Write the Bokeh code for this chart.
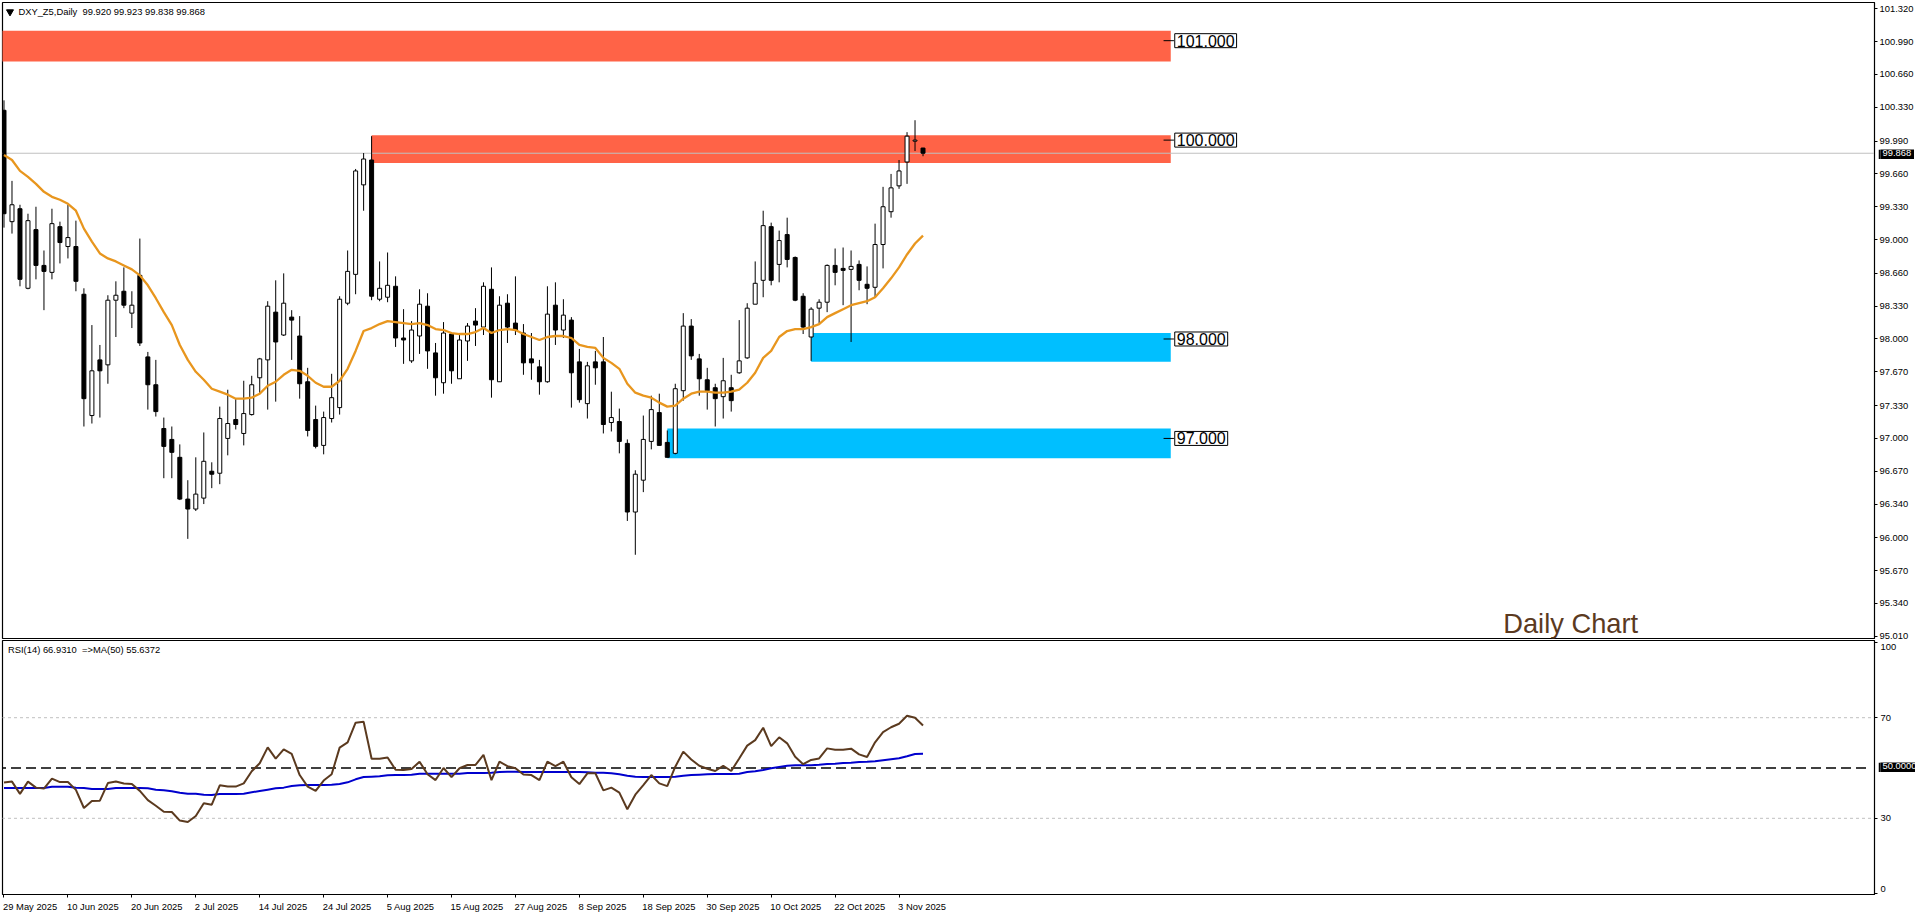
import numpy as np
from bokeh.embed import file_html
from bokeh.layouts import column
from bokeh.models import FixedTicker, Label, LinearAxis, NumeralTickFormatter, Range1d
from bokeh.plotting import figure
from bokeh.resources import INLINE

# daily candles, index = bar number
opens = [100.30, 99.18, 99.31, 98.51, 99.10, 98.74, 98.67, 99.13, 98.93, 98.93,
         98.45, 97.23, 97.79, 97.74, 98.39, 98.48, 98.26, 98.64, 97.82, 97.54,
         97.10, 96.99, 96.81, 96.39, 96.29, 96.40, 96.67, 96.65, 97.00, 97.19,
         97.05, 97.24, 97.61, 97.79, 98.27, 98.04, 98.22, 98.03, 97.57, 97.19,
         96.93, 97.20, 97.31, 98.36, 98.65, 99.55, 99.80, 98.40, 98.42, 98.53,
         98.01, 97.78, 98.03, 98.33, 97.86, 97.56, 98.05, 97.60, 97.98, 98.18,
         98.12, 98.50, 97.57, 98.36, 98.16, 98.06, 97.80, 97.72, 97.57, 98.34,
         98.09, 98.19, 97.77, 97.35, 97.77, 97.77, 97.16, 97.17, 96.95, 96.26,
         96.58, 96.97, 97.26, 96.96, 96.85, 97.48, 98.13, 97.80, 97.59, 97.51,
         97.42, 97.51, 97.66, 97.81, 98.35, 98.59, 99.13, 98.75, 99.05, 98.82,
         98.43, 98.02, 98.31, 98.37, 98.74, 98.71, 98.70, 98.75, 98.55, 98.52,
         98.95, 99.28, 99.54, 99.78, 99.99, 99.920]
highs = [100.40, 99.59, 99.35, 99.26, 99.33, 98.89, 99.31, 99.18, 99.35, 99.19,
         98.51, 98.14, 97.94, 98.44, 98.58, 98.72, 98.48, 99.01, 97.87, 97.79,
         97.21, 97.12, 96.94, 96.58, 96.81, 97.06, 96.76, 97.32, 97.49, 97.40,
         97.58, 97.63, 97.81, 98.38, 98.59, 98.66, 98.29, 98.23, 97.71, 97.33,
         97.27, 97.65, 98.43, 98.89, 99.71, 99.87, 100.04, 98.78, 98.87, 98.63,
         98.30, 98.18, 98.50, 98.46, 97.96, 98.17, 98.07, 98.04, 98.16, 98.31,
         98.57, 98.72, 98.43, 98.45, 98.63, 98.15, 98.06, 97.79, 98.53, 98.57,
         98.40, 98.22, 97.90, 97.77, 97.88, 98.02, 97.47, 97.30, 96.99, 96.68,
         97.23, 97.43, 97.45, 97.08, 97.55, 98.26, 98.20, 97.85, 97.71, 97.55,
         97.81, 97.64, 98.19, 98.36, 98.78, 99.29, 99.17, 99.09, 99.22, 98.83,
         98.46, 98.32, 98.40, 98.75, 98.91, 98.92, 98.89, 98.79, 98.73, 99.16,
         99.53, 99.66, 99.80, 100.08, 100.20, 99.923]
lows = [99.12, 99.06, 98.53, 98.50, 98.60, 98.29, 98.60, 98.76, 98.81, 98.48,
        97.12, 97.15, 97.21, 97.55, 98.02, 98.31, 98.11, 97.93, 97.29, 97.22,
        96.60, 96.60, 96.38, 95.99, 96.27, 96.34, 96.50, 96.54, 96.83, 97.09,
        96.93, 97.23, 97.45, 97.29, 97.37, 98.03, 97.79, 97.40, 97.02, 96.90,
        96.84, 97.16, 97.24, 98.34, 98.45, 99.29, 98.39, 98.38, 98.37, 97.92,
        97.75, 97.76, 97.85, 97.70, 97.43, 97.45, 97.55, 97.60, 97.78, 97.93,
        98.04, 97.41, 97.57, 97.96, 98.04, 97.64, 97.59, 97.44, 97.56, 97.94,
        98.01, 97.31, 97.36, 97.20, 97.54, 97.05, 97.07, 96.85, 96.17, 95.83,
        96.46, 96.89, 96.93, 96.81, 96.84, 97.38, 97.79, 97.43, 97.29, 97.12,
        97.20, 97.27, 97.65, 97.80, 98.35, 98.42, 98.54, 98.57, 98.72, 98.38,
        98.05, 97.78, 98.16, 98.27, 98.54, 98.34, 97.97, 98.49, 98.35, 98.42,
        98.71, 99.22, 99.51, 99.56, 99.89, 99.838]
closes = [99.26, 99.35, 98.60, 99.19, 98.74, 98.68, 99.16, 98.97, 99.02, 98.58,
          97.40, 97.68, 97.68, 98.39, 98.44, 98.34, 98.34, 97.96, 97.54, 97.27,
          96.92, 96.86, 96.39, 96.29, 96.44, 96.77, 96.64, 97.20, 97.15, 97.14,
          97.25, 97.54, 97.80, 98.33, 97.97, 98.36, 98.19, 97.55, 97.08, 96.92,
          97.21, 97.41, 98.40, 98.68, 99.69, 99.81, 98.43, 98.51, 98.54, 98.01,
          97.99, 98.09, 98.35, 97.88, 97.61, 98.06, 97.68, 97.99, 98.13, 98.14,
          98.53, 97.59, 98.34, 98.12, 98.09, 97.76, 97.76, 97.57, 98.25, 98.09,
          98.24, 97.66, 97.39, 97.73, 97.71, 97.14, 97.21, 96.97, 96.26, 96.64,
          96.99, 97.29, 96.93, 96.81, 97.50, 98.13, 97.83, 97.60, 97.48, 97.40,
          97.58, 97.38, 97.78, 98.31, 98.56, 99.14, 98.59, 98.99, 98.80, 98.39,
          98.12, 98.30, 98.37, 98.74, 98.67, 98.69, 98.73, 98.59, 98.51, 98.95,
          99.33, 99.52, 99.69, 100.04, 100.00, 99.868]
ma_price = [99.85, 99.80, 99.69, 99.63, 99.56, 99.48, 99.43, 99.40, 99.36, 99.29,
            99.11, 98.98, 98.86, 98.81, 98.78, 98.74, 98.70, 98.64, 98.54, 98.41,
            98.27, 98.14, 97.94, 97.79, 97.67, 97.59, 97.50, 97.47, 97.44, 97.40,
            97.40, 97.41, 97.45, 97.53, 97.57, 97.64, 97.69, 97.68, 97.63, 97.56,
            97.52, 97.52, 97.58, 97.70, 97.88, 98.08, 98.11, 98.15, 98.18, 98.17,
            98.16, 98.15, 98.16, 98.14, 98.10, 98.09, 98.06, 98.05, 98.05, 98.07,
            98.11, 98.06, 98.09, 98.10, 98.09, 98.05, 98.02, 97.99, 98.02, 98.03,
            98.03, 98.01, 97.94, 97.92, 97.91, 97.81, 97.76, 97.70, 97.55, 97.46,
            97.43, 97.41, 97.36, 97.32, 97.33, 97.40, 97.45, 97.47, 97.47, 97.46,
            97.46, 97.47, 97.49, 97.56, 97.66, 97.81, 97.88, 98.02, 98.08, 98.10,
            98.10, 98.12, 98.15, 98.22, 98.26, 98.30, 98.34, 98.36, 98.38, 98.42,
            98.51, 98.61, 98.72, 98.85, 98.96, 99.04]
rsi = [44.2, 44.6, 39.7, 44.6, 42.2, 41.8, 45.8, 44.4, 44.4, 41.3,
       34.1, 36.9, 37.0, 44.0, 44.6, 43.8, 43.6, 40.9, 37.2, 35.0,
       32.6, 32.5, 29.1, 28.5, 30.9, 36.0, 35.4, 43.1, 42.6, 42.6,
       43.9, 48.7, 51.9, 58.2, 53.7, 57.4, 55.6, 47.2, 42.6, 40.9,
       45.0, 47.5, 58.1, 60.2, 68.0, 68.4, 53.7, 53.7, 54.2, 49.3,
       49.2, 49.6, 52.5, 47.5, 45.2, 50.0, 46.4, 49.9, 51.2, 51.2,
       55.2, 45.2, 52.5, 50.7, 49.9, 47.4, 47.2, 45.2, 52.5, 50.7,
       52.5, 46.3, 43.6, 47.9, 47.9, 41.1, 42.2, 40.2, 33.6, 39.4,
       43.2, 47.2, 43.9, 42.8, 50.5, 56.5, 53.4, 50.9, 49.7, 48.8,
       50.9, 48.8, 53.8, 58.9, 61.1, 66.0, 58.7, 62.2, 59.8, 54.5,
       51.5, 53.2, 53.8, 57.8, 57.3, 57.3, 57.7, 55.4, 54.4, 60.2,
       64.3, 66.2, 67.6, 70.8, 70.0, 66.93]
rsi_ma = [42.05, 42.05, 42.05, 42.05, 42.05, 42.05, 42.58, 42.58, 42.58, 42.19,
          42.05, 41.66, 41.66, 41.66, 42.05, 42.05, 42.05, 42.05, 41.92, 41.39,
          41.13, 40.73, 40.20, 39.80, 39.80, 39.40, 39.27, 39.67, 39.67, 39.67,
          39.80, 40.33, 40.86, 41.39, 41.92, 42.19, 42.85, 43.11, 43.25, 43.25,
          43.25, 43.38, 43.64, 44.30, 45.50, 46.42, 46.56, 46.69, 47.09, 47.20,
          47.20, 47.35, 47.75, 47.75, 47.75, 47.75, 47.75, 47.75, 48.00, 48.00,
          48.00, 48.15, 48.41, 48.54, 48.54, 48.41, 48.41, 48.41, 48.41, 48.41,
          48.41, 48.41, 48.41, 48.28, 48.15, 48.15, 47.90, 47.48, 46.95, 46.56,
          46.42, 46.42, 46.42, 46.42, 46.56, 46.95, 47.20, 47.35, 47.48, 47.60,
          47.60, 47.60, 47.75, 48.41, 48.68, 49.20, 49.87, 50.40, 50.93, 51.06,
          51.06, 51.06, 51.32, 51.59, 51.72, 51.99, 52.12, 52.38, 52.50, 52.65,
          53.05, 53.44, 53.84, 54.64, 55.56, 55.64]

price_ticks = [101.32, 100.99, 100.66, 100.33, 99.99, 99.66, 99.33, 99.00, 98.66, 98.33,
               98.00, 97.67, 97.33, 97.00, 96.67, 96.34, 96.00, 95.67, 95.34, 95.01]
date_labels = ["29 May 2025", "10 Jun 2025", "20 Jun 2025", "2 Jul 2025", "14 Jul 2025",
               "24 Jul 2025", "5 Aug 2025", "15 Aug 2025", "27 Aug 2025", "8 Sep 2025",
               "18 Sep 2025", "30 Sep 2025", "10 Oct 2025", "22 Oct 2025", "3 Nov 2025"]
date_bars = [8 * n for n in range(len(date_labels))]
# rough pixel widths of the dates, the axis centres its labels but these start at the tick
date_px = [54.4, 51.8, 51.8, 43.4, 48.6, 48.6, 48.1, 53.3, 53.3, 48.1, 53.3, 53.3, 51.2, 51.2, 48.1]

# support / resistance zones
zone_left = [-1, 46, 101, 83]
zone_right = [146, 146, 146, 146]
zone_top = [101.10, 100.05, 98.06, 97.10]
zone_bottom = [100.79, 99.77, 97.77, 96.80]
zone_color = ["#FF6347", "#FF6347", "#00BFFF", "#00BFFF"]
levels = [101.0, 100.0, 98.0, 97.0]

last_price = 99.868
FONT = "Liberation Sans"
SMALL = "9.4px"
RSI_LOW = -0.298
RSI_PX = 2.515

x_range = Range1d(-0.1875, 234.0625)


def value_tag(text, top_margin, tag_width):
    # Labels get clipped to the frame, so a black tag over the axis is its own tiny figure.
    # The column stacks with plain margins, so the margin pulls it up from the previous item.
    tag = figure(frame_width=tag_width, frame_height=11, x_range=Range1d(0, tag_width), y_range=Range1d(0, 11),
                 x_axis_location=None, y_axis_location=None, toolbar_location=None,
                 output_backend="svg", min_border=0, background_fill_color="black",
                 border_fill_color="black", outline_line_color=None, margin=(top_margin, 0, 0, 1878))
    tag.grid.visible = False
    tag.add_layout(Label(x=2, y=7.5, text=text, text_font=FONT, text_font_size=SMALL, level="overlay",
                         text_color="white", text_baseline="middle"))
    return tag


# price panel, 2px extra canvas below the frame so that the 95.010 label is not cut
p = figure(width=1916, height=641, x_range=x_range, y_range=Range1d(94.988, 101.384),
           x_axis_location=None, y_axis_location="right", toolbar_location=None,
           output_backend="svg", min_border_left=2, min_border_top=2, min_border_bottom=3,
           min_border_right=40, background_fill_color="white", border_fill_color="white")
p.grid.visible = False
p.outline_line_color = "black"
p.outline_line_width = 1.2
ax = p.yaxis[0]
ax.ticker = FixedTicker(ticks=price_ticks)
ax.formatter = NumeralTickFormatter(format="0.000")
ax.major_tick_out = 3
ax.major_tick_in = 0
ax.minor_tick_line_color = None
ax.major_label_standoff = 2
ax.major_label_text_font = FONT
ax.major_label_text_font_size = SMALL
ax.major_label_text_color = "black"

p.quad(left=zone_left, right=zone_right, top=zone_top, bottom=zone_bottom,
       fill_color=zone_color, line_color=None)
p.line([-1, 235], [last_price, last_price], color="#C0C0C0", line_width=1)

bars = np.arange(len(opens))
o = np.array(opens)
c = np.array(closes)
up = c >= o
p.segment(bars, highs, bars, lows, color="black", line_width=1)
p.vbar(bars[up], 0.5, o[up], c[up], fill_color="white", line_color="black", line_width=1)
p.vbar(bars[~up], 0.5, c[~up], o[~up], fill_color="black", line_color="black", line_width=1)
p.line(bars, ma_price, color="#E8961E", line_width=2.3)

p.segment([145.1] * 4, levels, [146.4] * 4, levels, color="black", line_width=1)
for lv in levels:
    p.add_layout(Label(x=146.5, y=lv, text=f"{lv:.3f}", text_font=FONT, text_font_size="16px",
                       text_color="black", text_baseline="middle", text_align="left",
                       background_fill_color="white", border_line_color="black", padding=(2, 1)))

p.scatter([0.75], [101.29], marker="inverted_triangle", size=7, color="black")
p.add_layout(Label(x=1.8, y=101.295, text="DXY_Z5,Daily\u00a0\u00a099.920 99.923 99.838 99.868", text_font=FONT,
                   text_font_size=SMALL, text_baseline="middle", text_color="black"))
p.add_layout(Label(x=187.6, y=95.135, text="Daily Chart", text_font=FONT, text_font_size="27.3px",
                   text_color="#5B3A1F", text_baseline="alphabetic"))

# RSI panel
r = figure(width=1916, height=275, x_range=x_range, y_range=Range1d(RSI_LOW, RSI_LOW + 254 / RSI_PX),
           x_axis_location=None, y_axis_location="right", toolbar_location=None,
           output_backend="svg", min_border_left=2, min_border_top=1, min_border_bottom=20,
           min_border_right=40, background_fill_color="white", border_fill_color=None,
           margin=(-2, 0, 0, 0))
r.grid.visible = False
r.outline_line_color = "black"
r.outline_line_width = 1.2
# 100 and 0 are printed just inside the panel, so label position and tick differ
rsi_labels = {98.1: "100", 70: "70", 30: "30", 1.7: "0"}
ax = r.yaxis[0]
ax.ticker = FixedTicker(ticks=list(rsi_labels), minor_ticks=[100, 70, 30, 0])
ax.major_label_overrides = rsi_labels
ax.major_tick_line_color = None
ax.major_tick_out = 0
ax.major_tick_in = 0
ax.minor_tick_out = 3
ax.minor_tick_in = 0
ax.major_label_standoff = 3
ax.major_label_text_font = FONT
ax.major_label_text_font_size = SMALL
ax.major_label_text_color = "black"

date_pos = [round(b + (w / 2 - 1) / 8, 3) for b, w in zip(date_bars, date_px)]
xa = LinearAxis(ticker=FixedTicker(ticks=date_pos, minor_ticks=date_bars),
                major_label_overrides=dict(zip(date_pos, date_labels)),
                major_tick_line_color=None, major_tick_out=0, major_tick_in=0,
                minor_tick_out=3, minor_tick_in=0, major_label_standoff=3,
                major_label_text_font=FONT, major_label_text_font_size=SMALL,
                major_label_text_color="black")
r.add_layout(xa, "below")

r.line([-1, 234], [70, 70], color="#C0C0C0", line_width=1, line_dash="3 3")
r.line([-1, 234], [30, 30], color="#C0C0C0", line_width=1, line_dash="3 3")
r.line([-1, 233.5], [50, 50], color="black", line_width=1.4, line_dash="10 5")
r.line(bars, rsi_ma, color="#0000CD", line_width=2)
r.line(bars, rsi, color="#5B3A1F", line_width=2)

r.add_layout(Label(x=0.5, y=97.3, text="RSI(14) 66.9310\u00a0\u00a0=>MA(50) 55.6372", text_font=FONT,
                   text_font_size=SMALL, text_baseline="middle", text_color="black"))

price_tag = value_tag(f"{last_price:.3f}", -766, 36)
rsi_tag = value_tag("50.0000", 602, 37)

page = column(p, r, price_tag, rsi_tag, spacing=0)
open("out.html", "w").write(file_html(page, INLINE))
